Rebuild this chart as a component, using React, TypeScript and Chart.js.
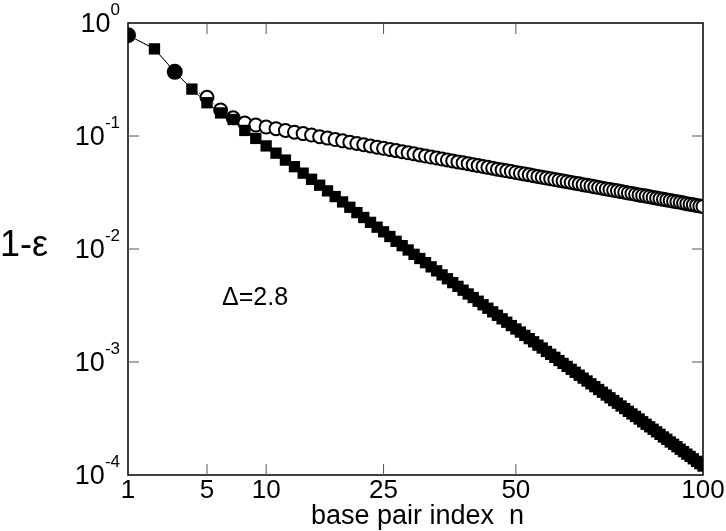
import React, { useEffect, useRef } from "react";
import { Chart, registerables } from "chart.js";
Chart.register(...registerables);

const nValues = Array.from({ length: 100 }, (_, i) => i + 1);
const squareValues = [0.78,0.59,0.37,0.26,0.197,0.16,0.14,0.112,0.0952,0.0817,0.0705,0.0612,0.0535,0.0469,0.0414,0.0367,0.0327,0.0291,0.0261,0.0234,0.021,0.019,0.0172,0.0156,0.0142,0.0129,0.0117,0.0107,0.0098,0.00897,0.00824,0.00757,0.00695,0.00641,0.0059,0.00545,0.00504,0.00467,0.00432,0.004,0.00372,0.00345,0.00321,0.00299,0.00278,0.00259,0.00241,0.00225,0.0021,0.00196,0.00184,0.00172,0.00161,0.00151,0.00141,0.00133,0.00124,0.00117,0.0011,0.00103,0.000971,0.000914,0.000861,0.000811,0.000764,0.00072,0.000679,0.000641,0.000605,0.000571,0.00054,0.00051,0.000482,0.000456,0.000432,0.000408,0.000387,0.000366,0.000347,0.00033,0.000313,0.000296,0.000281,0.000267,0.000254,0.000241,0.000229,0.000217,0.000207,0.000196,0.000187,0.000178,0.000169,0.000161,0.000153,0.000146,0.000139,0.000132,0.000126,0.00012];
const circleValues = [0.78,0.59,0.37,0.26,0.22,0.17,0.145,0.13,0.125,0.12,0.116,0.112,0.108,0.105,0.102,0.0986,0.0958,0.0931,0.0906,0.0881,0.0859,0.0838,0.0817,0.0797,0.0778,0.076,0.0743,0.0726,0.071,0.0695,0.068,0.0665,0.0652,0.0638,0.0626,0.0614,0.0602,0.059,0.0579,0.0569,0.0558,0.0547,0.0538,0.0528,0.0519,0.0509,0.0501,0.0492,0.0484,0.0476,0.0468,0.046,0.0453,0.0446,0.0439,0.0432,0.0425,0.0419,0.0412,0.0406,0.04,0.0394,0.0388,0.0382,0.0377,0.0371,0.0366,0.0361,0.0355,0.035,0.0345,0.034,0.0336,0.0331,0.0327,0.0322,0.0318,0.0313,0.031,0.0305,0.0301,0.0297,0.0294,0.029,0.0286,0.0282,0.0279,0.0275,0.0272,0.0269,0.0265,0.0262,0.0259,0.0255,0.0252,0.0249,0.0246,0.0243,0.024,0.0238];
const xTicks = [1, 5, 10, 25, 50, 100];
const yTicks = [1, 0.1, 0.01, 0.001, 0.0001];
const yTickExp = ["0", "-1", "-2", "-3", "-4"];

const FONT = "'Liberation Sans', Arial, sans-serif";

const framePlugin = {
  id: "frame",
  afterDraw(chart: any) {
    const { ctx, chartArea: a, scales } = chart;
    const xs = scales.x, ys = scales.y;
    ctx.save();
    ctx.strokeStyle = "#000";
    ctx.lineWidth = 1.5;
    ctx.strokeRect(a.left, a.top, a.right - a.left, a.bottom - a.top);
    ctx.lineWidth = 1;
    ctx.strokeStyle = "#555";
    const tl = 11;
    ctx.fillStyle = "#000";
    ctx.font = `26px ${FONT}`;
    ctx.textAlign = "center";
    ctx.textBaseline = "top";
    xTicks.forEach((n) => {
      const x = xs.getPixelForValue(Math.sqrt(n));
      if (n !== 1 && n !== 100) {
        ctx.beginPath();
        ctx.moveTo(x, a.bottom); ctx.lineTo(x, a.bottom - tl);
        ctx.moveTo(x, a.top); ctx.lineTo(x, a.top + tl);
        ctx.stroke();
      }
      ctx.fillText(String(n), x, a.bottom + 3);
    });
    yTicks.forEach((v, i) => {
      const y = ys.getPixelForValue(v);
      if (i !== 0 && i !== yTicks.length - 1) {
        ctx.beginPath();
        ctx.moveTo(a.left, y); ctx.lineTo(a.left + tl, y);
        ctx.moveTo(a.right, y); ctx.lineTo(a.right - tl, y);
        ctx.stroke();
      }
      ctx.textBaseline = "middle";
      ctx.font = `17px ${FONT}`;
      const ew = ctx.measureText(yTickExp[i]).width;
      ctx.textAlign = "left";
      ctx.fillText(yTickExp[i], a.left - 8 - ew, y - 13);
      ctx.font = `27px ${FONT}`;
      ctx.textAlign = "right";
      ctx.fillText("10", a.left - 8 - ew, y + 2);
    });
    ctx.textAlign = "center";
    ctx.textBaseline = "middle";
    ctx.font = `27px ${FONT}`;
    ctx.fillText("base pair index  n", (a.left + a.right) / 2 + 2, 517);
    ctx.font = `36px ${FONT}`;
    ctx.textAlign = "left";
    ctx.fillText("1-ε", 0, 246);
    ctx.font = `25px ${FONT}`;
    ctx.fillText("Δ=2.8", 222, 298);
    ctx.restore();
  },
};

export default function App() {
  const ref = useRef<HTMLCanvasElement>(null);
  useEffect(() => {
    document.body.style.margin = "0";
    const sq = nValues.map((n, i) => ({ x: Math.sqrt(n), y: squareValues[i] }));
    const ci = nValues.map((n, i) => ({ x: Math.sqrt(n), y: circleValues[i] }));
    const chart = new Chart(ref.current!, {
      type: "scatter",
      data: {
        datasets: [
          {
            order: 1,
            data: ci,
            showLine: true,
            borderColor: "#000",
            borderWidth: 1,
            borderDash: [1, 2],
            backgroundColor: "rgba(0,0,0,0)",
            pointBackgroundColor: "#fff",
            pointBorderColor: "#000",
            pointStyle: "circle",
            pointRadius: nValues.map((n) => (n <= 4 ? 0 : 6.5)) as any,
            pointBorderWidth: 2,
          },
          {
            order: 0,
            data: sq,
            showLine: true,
            borderColor: "#000",
            borderWidth: 1,
            backgroundColor: "#000",
            pointBackgroundColor: "#000",
            pointStyle: nValues.map((n) => (n === 1 || n === 3 ? "circle" : "rect")) as any,
            pointRadius: nValues.map((n) => (n === 1 || n === 3 ? 8 : 8)) as any,
            pointBorderWidth: 0,
          },
        ],
      },
      options: {
        animation: false,
        responsive: false,
        layout: { padding: { left: 128, right: 23, top: 23, bottom: 56 } },
        plugins: { legend: { display: false }, tooltip: { enabled: false } },
        scales: {
          x: { type: "linear", min: 1, max: 10, display: false },
          y: { type: "logarithmic", min: 0.0001, max: 1, display: false },
        },
      },
      plugins: [framePlugin],
    });
    return () => chart.destroy();
  }, []);
  return <canvas ref={ref} width={726} height={531} style={{ display: "block" }} />;
}
